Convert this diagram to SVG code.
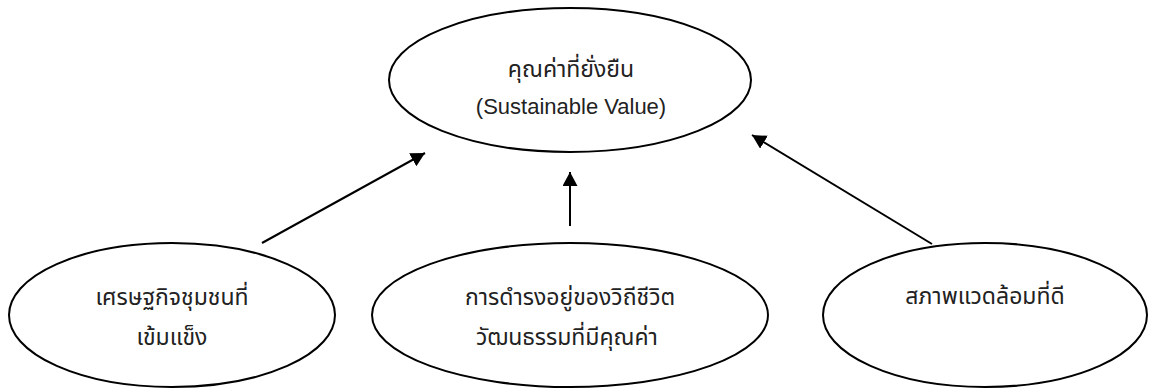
<svg xmlns="http://www.w3.org/2000/svg" width="1149" height="388" viewBox="0 0 1149 388">
  <style>
    .node ellipse { fill: #ffffff; stroke: #000000; stroke-width: 2; }
    .t { font-family: "Noto Sans Thai", "Noto Sans Thai Looped", "Noto Sans", "Liberation Sans", sans-serif; font-size: 23px; fill: #222222; text-anchor: middle; }
    .lat { font-family: "Liberation Sans", Arial, sans-serif; font-size: 22px; fill: #222222; text-anchor: middle; }
    .conn line { stroke: #000000; stroke-width: 2; }
  </style>
  <defs>
    <marker id="arrow" markerUnits="userSpaceOnUse" markerWidth="16" markerHeight="16" refX="14" refY="7.5" orient="auto">
      <path d="M0,0 L14,7.5 L0,15 Z" fill="#000000"/>
    </marker>
  </defs>
  <rect width="1149" height="388" fill="#ffffff"/>

  <g id="node-sustainable-value" class="node">
    <ellipse cx="570" cy="80" rx="181" ry="72"/>
    <text class="t" x="571" y="77">คุณค่าที่ยั่งยืน</text>
    <text class="lat" x="571" y="114">(Sustainable Value)</text>
  </g>

  <g id="node-economy" class="node">
    <ellipse cx="172" cy="315" rx="163" ry="72"/>
    <text class="t" x="172" y="305">เศรษฐกิจชุมชนที่</text>
    <text class="t" x="172" y="345">เข้มแข็ง</text>
  </g>

  <g id="node-culture" class="node">
    <ellipse cx="570" cy="315" rx="198" ry="72"/>
    <text class="t" x="570" y="305">การดำรงอยู่ของวิถีชีวิต</text>
    <text class="t" x="567" y="345">วัฒนธรรมที่มีคุณค่า</text>
  </g>

  <g id="node-environment" class="node">
    <ellipse cx="985" cy="315" rx="162" ry="72"/>
    <text class="t" x="985" y="304">สภาพแวดล้อมที่ดี</text>
  </g>

  <g id="connectors" class="conn">
    <line x1="262" y1="243" x2="425" y2="153" marker-end="url(#arrow)"/>
    <line x1="570" y1="226" x2="570" y2="172" marker-end="url(#arrow)"/>
    <line x1="932" y1="244" x2="752" y2="135" marker-end="url(#arrow)"/>
  </g>
</svg>
